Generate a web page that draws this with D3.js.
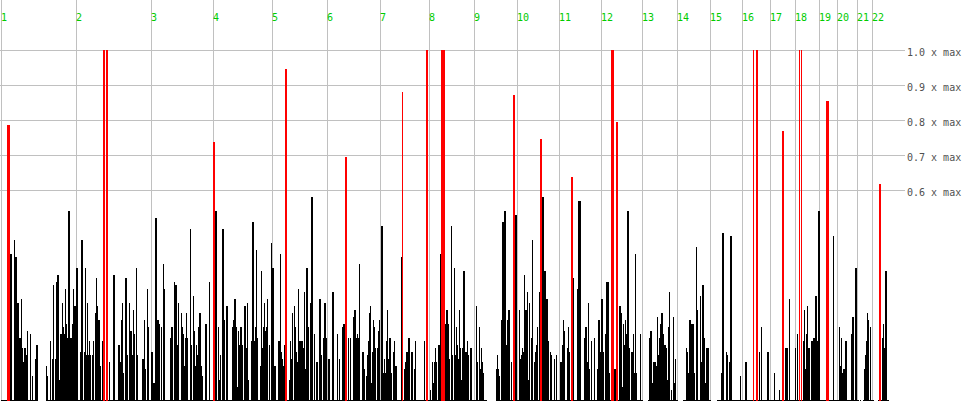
<!DOCTYPE html>
<html>
<head>
<meta charset="utf-8">
<script src="https://cdn.jsdelivr.net/npm/d3@7"></script>
<style>
html, body { margin: 0; padding: 0; background: #ffffff; }
svg { display: block; }
</style>
</head>
<body>
<svg id="chart" width="980" height="420"></svg>
<script>
// ---- data ----
const chromosomes = ["1","2","3","4","5","6","7","8","9","10","11","12","13","14","15","16","17","18","19","20","21","22"];
// chromosome start positions, in genome bins
const chromStarts = [1,76,151,213,272,327,380,429,474,517,559,601,642,677,710,742,770,795,819,838,858,873];
const genomeEnd = 889;

// reference levels (percent of max) and their labels
const gridLevels = [100, 90, 80, 70, 60];
const gridLabels = ["1.0 x max", "0.9 x max", "0.8 x max", "0.7 x max", "0.6 x max"];

// signal per genome bin (bins 1..888), percent of max; null = no data
const signal = [
0,0,0,0,0,0,0,0,0,42,
42,0,0,46,41,41,28,28,18,18,
29,15,11,15,15,13,20,0,0,19,
0,7,0,0,12,16,16,null,null,null,
null,null,null,null,null,10,7,0,0,17,
0,12,33,0,12,34,36,36,6,19,
19,28,21,19,32,22,18,54,54,18,
18,22,32,27,27,38,38,0,0,14,
46,46,0,14,38,13,28,13,17,13,
0,13,17,0,25,35,27,23,23,10,
0,17,0,0,0,0,0,0,11,0,
0,0,36,36,0,0,0,16,16,11,
23,28,8,0,35,35,13,0,28,20,
20,13,26,19,0,38,13,0,0,0,
0,12,12,23,9,0,32,21,0,0,
14,14,5,5,52,52,23,23,22,0,
21,0,39,32,0,0,0,0,0,18,
21,21,0,34,33,33,16,28,0,0,
25,21,19,10,18,25,18,0,0,49,
16,0,30,20,10,16,13,21,25,25,
10,7,0,0,22,22,0,0,34,0,
0,0,0,0,54,54,0,21,6,13,
0,49,49,23,0,27,27,0,0,0,
0,21,23,29,29,21,4,20,16,21,
21,16,0,27,27,15,28,6,0,0,
17,51,51,17,21,43,18,0,0,10,
37,15,21,28,20,21,29,0,16,0,
45,38,38,10,10,0,0,17,17,42,
14,12,10,16,0,0,0,0,6,17,
12,25,0,27,21,14,11,32,17,17,
17,17,15,31,9,38,38,21,0,28,
58,58,0,19,0,11,11,0,29,29,
13,0,18,28,28,18,0,12,12,0,
0,31,31,0,0,0,19,0,12,0,
0,21,22,22,0,0,0,18,0,18,
0,0,24,26,26,18,19,18,39,0,
0,14,14,9,0,7,13,17,25,27,
5,14,23,21,15,0,15,20,23,0,
50,50,8,12,8,17,26,12,18,18,
8,0,14,17,10,10,0,0,0,0,
41,0,0,9,11,14,14,18,18,0,
14,14,0,9,17,0,0,0,0,0,
0,0,0,17,0,0,0,0,0,3,
0,11,5,11,15,11,0,16,16,42,
0,0,0,0,22,26,26,22,12,0,
50,13,0,38,13,21,16,12,26,15,
6,15,37,37,14,14,17,13,0,15,
15,0,0,0,0,27,11,0,21,9,
15,11,8,0,0,0,null,null,null,null,
null,null,null,null,null,9,13,9,7,0,
23,51,51,54,54,16,23,26,26,0,
11,0,0,0,53,53,0,0,26,12,
13,15,14,36,26,26,31,6,28,0,
18,46,0,11,14,16,21,0,31,0,
0,58,58,37,37,29,29,17,0,14,
13,0,0,12,0,13,0,0,0,11,
11,16,23,20,0,0,15,21,14,0,
0,14,35,0,0,0,32,57,57,57,
0,0,0,18,21,21,11,28,9,0,
17,0,0,18,0,0,9,23,23,14,
29,29,14,0,19,34,34,34,8,0,
0,0,0,9,9,0,0,0,27,27,
25,4,22,16,23,19,54,54,15,0,
14,14,19,8,42,8,0,0,0,19,
0,0,null,null,null,null,null,0,18,20,
20,5,11,11,11,10,24,13,18,22,
25,25,19,16,16,15,6,21,31,0,
3,0,24,5,12,0,0,null,null,null,
null,null,0,0,0,15,14,8,23,23,
22,22,22,8,0,44,26,0,0,30,
11,33,33,18,5,15,15,15,0,0,
null,null,null,null,null,null,0,0,0,0,
8,48,48,0,0,14,13,0,11,47,
47,0,0,0,0,0,0,0,0,7,
0,0,0,0,11,11,0,0,0,0,
0,0,0,0,0,0,0,0,14,0,
21,0,0,0,0,0,14,14,0,0,
0,0,0,8,0,0,0,0,3,0,
0,0,0,0,15,15,15,0,29,0,
0,0,0,0,15,0,19,0,0,0,
0,0,17,26,9,19,27,15,15,0,
17,17,18,18,30,30,17,54,54,0,
0,0,0,0,0,0,0,0,0,0,
0,0,47,0,0,0,0,0,21,10,
18,8,9,9,17,17,0,0,0,0,
19,24,24,0,38,38,0,0,null,0,
null,null,0,9,13,17,25,23,0,21,
0,0,0,null,null,null,null,0,0,33,
0,18,22,15,37,37,0,0
];

// highlighted peaks: start bin, end bin (exclusive), value (percent of max)
const peakStart = [7, 103, 106, 213, 285, 345, 402, 426, 441, 513, 540, 571, 611, 616, 753, 756, 782, 799, 801, 826, 879];
const peakEnd   = [10, 105, 108, 215, 287, 347, 403, 428, 445, 515, 542, 573, 614, 618, 754, 758, 784, 800, 802, 829, 881];
const peakValue = [78.6, 100, 100, 73.8, 94.6, 69.5, 88.0, 100, 100, 87.2, 74.6, 63.8, 100, 79.5, 100, 100, 76.9, 100, 100, 85.5, 61.7];

// ---- drawing ----
const svg = d3.select("#chart");
const x = d3.scaleLinear().domain([1, genomeEnd]).range([1, 889]);
const y = d3.scaleLinear().domain([0, 100]).range([401, 50]);
const px = v => Math.round(x(v));
const baseY = Math.round(y(0));

const gridColor = "#c0c0c0";

// horizontal reference lines
svg.append("g").selectAll("line")
  .data(gridLevels)
  .join("line")
  .attr("x1", 0).attr("x2", 905)
  .attr("y1", d => Math.floor(y(d)) + 0.5)
  .attr("y2", d => Math.floor(y(d)) + 0.5)
  .attr("stroke", gridColor).attr("stroke-width", 1);

// chromosome boundary lines
svg.append("g").selectAll("line")
  .data(chromStarts)
  .join("line")
  .attr("x1", d => Math.floor(x(d)) + 0.5)
  .attr("x2", d => Math.floor(x(d)) + 0.5)
  .attr("y1", 0).attr("y2", baseY)
  .attr("stroke", gridColor).attr("stroke-width", 1);

// chromosome labels
svg.append("g").selectAll("text")
  .data(chromosomes)
  .join("text")
  .attr("x", (d, i) => Math.floor(x(chromStarts[i])))
  .attr("y", 21)
  .attr("fill", "#00cc00")
  .attr("font-family", "'DejaVu Sans Mono', monospace")
  .attr("font-size", "10px")
  .text(d => d);

// right-hand level labels
svg.append("g").selectAll("text")
  .data(gridLevels)
  .join("text")
  .attr("x", 907)
  .attr("y", d => Math.floor(y(d)) + 6)
  .attr("fill", "#505050")
  .attr("font-family", "'DejaVu Sans Mono', monospace")
  .attr("font-size", "10px")
  .text((d, i) => gridLabels[i]);

// signal bars
const bins = signal.map((v, i) => ({ bin: i + 1, v })).filter(d => d.v !== null);
svg.append("g").attr("shape-rendering", "crispEdges").selectAll("rect")
  .data(bins)
  .join("rect")
  .attr("x", d => px(d.bin))
  .attr("width", d => Math.max(1, px(d.bin + 1) - px(d.bin)))
  .attr("y", d => Math.min(Math.round(y(d.v)), baseY - 1))
  .attr("height", d => Math.max(1, baseY - Math.round(y(d.v))))
  .attr("fill", "#000000");

// highlighted peaks
const peaks = peakStart.map((s, i) => ({ s, e: peakEnd[i], v: peakValue[i] }));
svg.append("g").attr("shape-rendering", "crispEdges").selectAll("rect")
  .data(peaks)
  .join("rect")
  .attr("x", d => px(d.s))
  .attr("width", d => Math.max(1, px(d.e) - px(d.s)))
  .attr("y", d => Math.round(y(d.v)))
  .attr("height", d => baseY - Math.round(y(d.v)))
  .attr("fill", "#ff0000");
</script>
</body>
</html>
